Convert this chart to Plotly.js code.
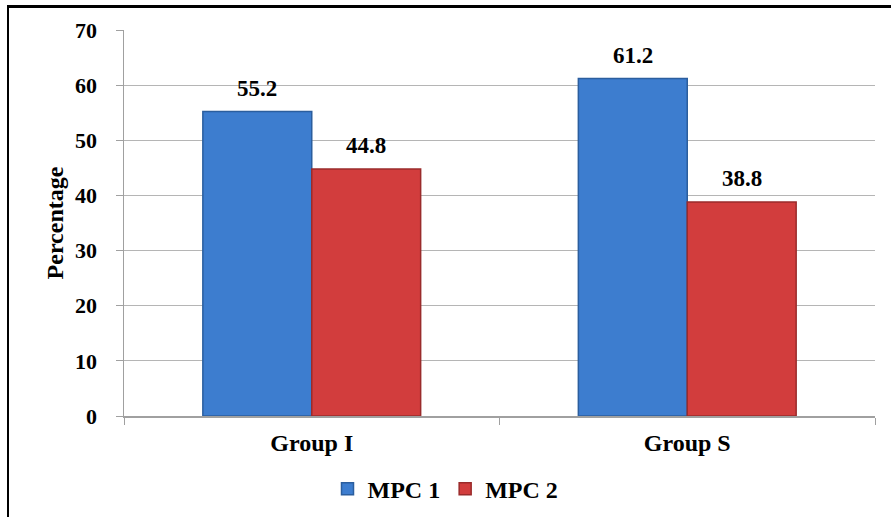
<!DOCTYPE html>
<html>
<head>
<meta charset="utf-8">
<script src="https://cdn.plot.ly/plotly-3.0.1.min.js"></script>
<style>
html,body{margin:0;padding:0;background:#fff;overflow:hidden;}
#wrap{position:relative;width:891px;height:517px;}
#chart{width:891px;height:517px;}
#frame{position:absolute;left:7px;top:5px;width:950px;height:600px;border-left:2px solid #000;border-top:3px solid #000;pointer-events:none;}
</style>
</head>
<body>
<div id="wrap"><div id="chart"></div><div id="frame"></div></div>
<script>
const categories = ['Group I', 'Group S'];
const seriesNames = ['MPC 1', 'MPC 2'];
const mpc1 = [55.2, 61.2];
const mpc2 = [44.8, 38.8];
const yTicks = [0, 10, 20, 30, 40, 50, 60, 70];

const fam = 'Times New Roman';
const mk = s => ({family: fam, size: s, color: '#000', weight: 'bold'});
const bargap = 0.42;

const traces = [
  {type: 'bar', name: seriesNames[0], x: categories, y: mpc1,
   marker: {color: '#3d7dcf', line: {color: '#2b5e9e', width: 1.5}}},
  {type: 'bar', name: seriesNames[1], x: categories, y: mpc2,
   marker: {color: '#d23d3d', line: {color: '#9a2b2b', width: 1.5}}}
];

const annotations = [];
const off = (1 - bargap) / 4;
[mpc1, mpc2].forEach((vals, s) => {
  vals.forEach((v, i) => {
    annotations.push({x: i + (s === 0 ? -off : off), y: v, xref: 'x', yref: 'y',
      text: v.toFixed(1), showarrow: false, yanchor: 'bottom', yshift: 9, font: mk(23)});
  });
});

const layout = {
  width: 891, height: 517,
  margin: {l: 124, r: 16, t: 30, b: 101},
  paper_bgcolor: '#fff', plot_bgcolor: '#fff',
  font: mk(22),
  barmode: 'group', bargap: bargap, bargroupgap: 0,
  showlegend: true,
  legend: {orientation: 'h', xref: 'container', yref: 'container', x: 0.5, xanchor: 'center', y: 0.054, yanchor: 'middle',
    font: mk(24), itemwidth: 30, traceorder: 'normal'},
  xaxis: {type: 'category', tickson: 'boundaries', ticks: 'outside', ticklen: 7, tickcolor: '#a0a0a0',
    showline: true, linecolor: '#a0a0a0', linewidth: 1.5, showgrid: false, mirror: false,
    tickfont: mk(24), ticklabelstandoff: 5},
  yaxis: {range: [0, 70], tickvals: yTicks,
    ticks: 'outside', ticklen: 7, tickcolor: '#a0a0a0', showline: true, linecolor: '#a0a0a0', linewidth: 1.5,
    showgrid: true, gridcolor: '#b5b5b5', gridwidth: 1.2, zeroline: false, ticklabelstandoff: 14,
    tickfont: mk(22),
    title: {text: 'Percentage', font: mk(24), standoff: 4}},
  annotations: annotations
};

Plotly.newPlot('chart', traces, layout, {displayModeBar: false, staticPlot: true});
</script>
</body>
</html>
